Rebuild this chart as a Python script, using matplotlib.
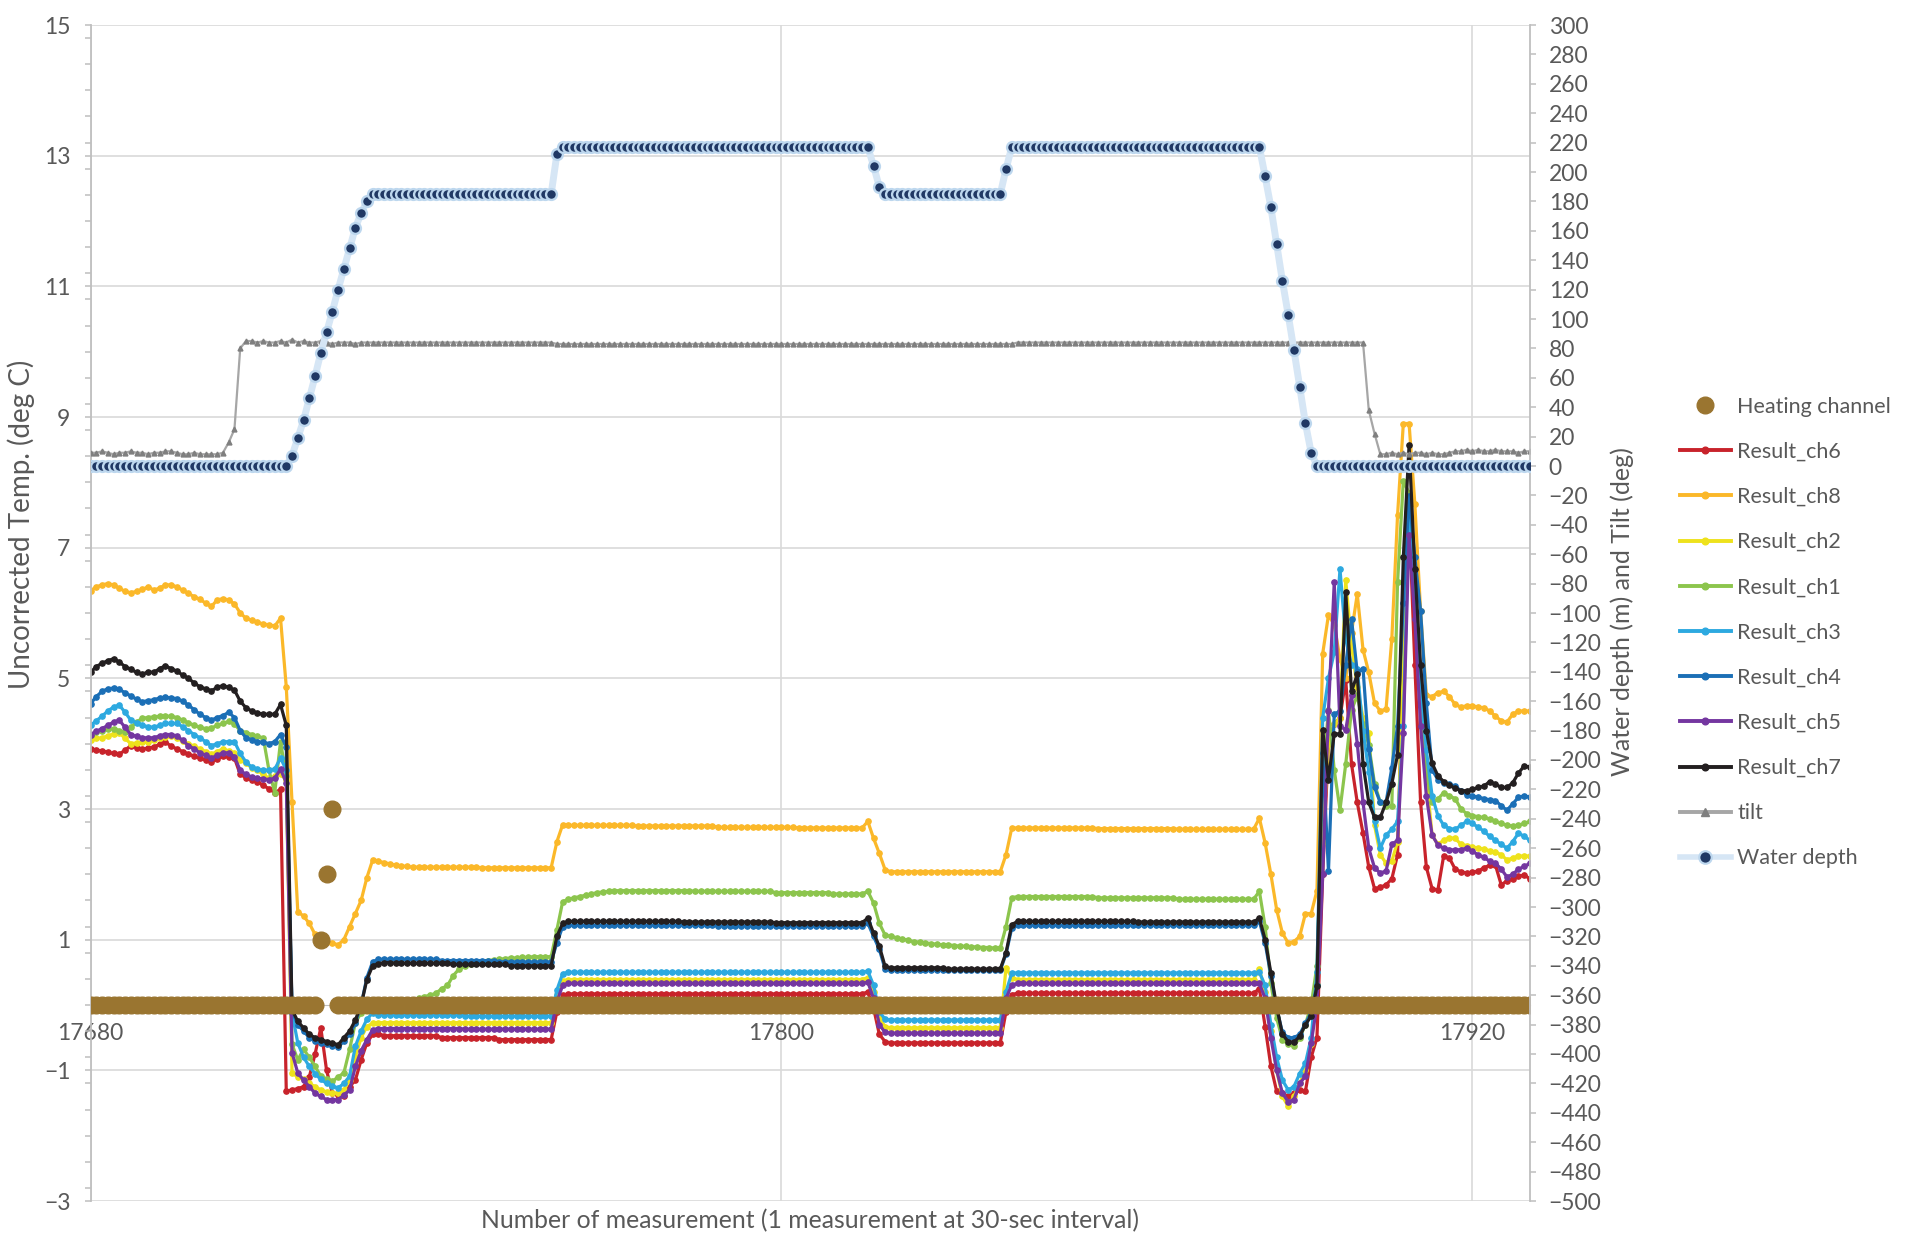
import numpy as np
import matplotlib.pyplot as plt
from matplotlib.lines import Line2D
from matplotlib.ticker import MultipleLocator

plt.rcParams["font.family"] = ["Lato", "DejaVu Sans"]

# measurement numbers, one measurement every 30 s
first_measurement = 17680
n_points = 251

heating_channel = [0] * 40 + [1, 2, 3] + [0] * 208

# segments: surface | drop + descent | 185 m | 217 m | 185 m | 217 m | ascent | surface
result_ch6 = (
    [3.92, 3.90, 3.89, 3.87, 3.85, 3.84, 3.90, 3.97, 3.94, 3.92, 3.93, 3.95, 3.99, 4.03, 3.96, 3.92, 3.88,
     3.84, 3.81, 3.78, 3.75, 3.72, 3.77, 3.81, 3.79, 3.78, 3.53, 3.48, 3.44, 3.42, 3.36, 3.31, 3.25, 3.30]
    + [-1.32, -1.30, -1.28, -1.25, -1.10, -0.75, -0.35, -1.00, -1.35, -1.38, -1.40, -1.25, -1.15, -0.84, -0.58, -0.45]
    + [-0.44] + [-0.47] * 10 + [-0.50] * 10 + [-0.53] * 10
    + [-0.10, 0.15] + [0.17] * 52 + [0.20]
    + [-0.05, -0.45, -0.56] + [-0.58] * 20
    + [-0.10, 0.16] + [0.18] * 42
    + [0.25, -0.33, -0.94, -1.32, -1.35, -1.40, -1.35, -1.30, -1.32, -0.80]
    + [-0.50, 2.00, 4.00, 4.30, 4.40, 4.98, 3.69, 3.10, 2.63, 2.11, 1.78, 1.80, 1.84, 1.93, 2.30, 5.44, 7.50,
       5.21, 3.10, 2.11, 1.78, 1.76, 2.28, 2.25, 2.08, 2.04, 2.02, 2.03, 2.05, 2.10, 2.14, 2.14, 1.84, 1.90,
       1.93, 1.97, 1.99, 1.93]
)

result_ch8 = (
    [6.34, 6.40, 6.43, 6.45, 6.43, 6.38, 6.33, 6.31, 6.33, 6.36, 6.40, 6.35, 6.38, 6.43, 6.43, 6.40, 6.35,
     6.30, 6.25, 6.21, 6.15, 6.10, 6.20, 6.22, 6.20, 6.14, 6.00, 5.92, 5.89, 5.86, 5.83, 5.82, 5.80, 5.92]
    + [4.87, 3.10, 1.43, 1.36, 1.25, 1.08, 1.00, 0.97, 0.95, 0.92, 1.00, 1.20, 1.40, 1.60, 1.95, 2.22]
    + [2.20, 2.18, 2.16, 2.14, 2.13, 2.12] + [2.11] * 12 + [2.10] * 13
    + [2.50, 2.76] + [2.75] * 12 + [2.74] * 14 + [2.72] * 14 + [2.71] * 12 + [2.81]
    + [2.55, 2.32, 2.07] + [2.04] * 20
    + [2.30, 2.71] + [2.71] * 14 + [2.70] * 14 + [2.69] * 14
    + [2.86, 2.48, 2.00, 1.46, 1.10, 0.95, 0.97, 1.05, 1.40, 1.40]
    + [1.75, 5.38, 5.97, 5.82, 5.30, 5.00, 5.70, 6.29, 5.44, 5.09, 4.62, 4.50, 4.53, 5.60, 7.50, 8.90, 8.90,
       7.67, 6.03, 4.74, 4.72, 4.78, 4.80, 4.72, 4.60, 4.56, 4.58, 4.58, 4.56, 4.55, 4.50, 4.42, 4.35, 4.33,
       4.45, 4.50, 4.50, 4.50]
)

result_ch2 = (
    [4.06, 4.08, 4.09, 4.12, 4.15, 4.17, 4.08, 4.00, 4.01, 4.02, 4.03, 4.06, 4.09, 4.10, 4.11, 4.08, 4.04,
     4.00, 3.96, 3.92, 3.88, 3.84, 3.88, 3.92, 3.89, 3.86, 3.75, 3.70, 3.63, 3.59, 3.53, 3.47, 3.50, 3.53]
    + [3.45, -1.04, -1.10, -1.14, -1.20, -1.25, -1.30, -1.33, -1.35, -1.35, -1.30, -1.15, -0.80, -0.50, -0.33, -0.28]
    + [-0.27] * 31
    + [0.15, 0.37] + [0.39] * 52 + [0.42]
    + [0.20, -0.20, -0.33] + [-0.35] * 20
    + [0.57, 0.42] + [0.39] * 42
    + [0.55, 0.20, -0.40, -1.00, -1.40, -1.55, -1.40, -1.20, -1.00, -0.60]
    + [0.30, 2.50, 4.00, 4.30, 4.40, 6.50, 5.50, 4.86, 4.40, 4.16, 2.75, 2.30, 2.17, 2.20, 2.50, 5.21, 7.79,
       6.50, 4.86, 3.50, 2.60, 2.46, 2.52, 2.56, 2.55, 2.46, 2.44, 2.42, 2.40, 2.39, 2.36, 2.34, 2.30, 2.22,
       2.25, 2.28, 2.28, 2.28]
)

result_ch1 = (
    [4.14, 4.18, 4.20, 4.22, 4.23, 4.20, 4.18, 4.25, 4.33, 4.39, 4.40, 4.41, 4.42, 4.42, 4.42, 4.40, 4.36,
     4.32, 4.28, 4.25, 4.23, 4.24, 4.28, 4.31, 4.34, 4.30, 4.20, 4.17, 4.14, 4.11, 4.09, 3.59, 3.25, 4.03]
    + [3.50, -0.60, -0.84, -0.68, -0.80, -0.94, -1.09, -1.13, -1.17, -1.10, -1.04, -0.68, -0.27, -0.12, -0.07, -0.05]
    + [-0.03, -0.02, 0.00, 0.02, 0.03, 0.05, 0.07, 0.10, 0.13, 0.15, 0.18, 0.25, 0.30, 0.45, 0.55, 0.60,
       0.62, 0.64, 0.66, 0.68, 0.69, 0.70, 0.71, 0.72, 0.72, 0.73, 0.73, 0.74, 0.74, 0.74, 0.74]
    + [1.15, 1.58, 1.62, 1.64, 1.66, 1.68, 1.70, 1.72, 1.73, 1.74] + [1.75] * 14 + [1.74] * 14 + [1.72] * 10
    + [1.70] * 6 + [1.74]
    + [1.56, 1.25, 1.07, 1.05, 1.03, 1.01, 0.99, 0.97, 0.96, 0.95, 0.94, 0.93, 0.92, 0.92, 0.91, 0.90, 0.90,
       0.89, 0.89, 0.88, 0.88, 0.87, 0.87]
    + [1.20, 1.64] + [1.66] * 14 + [1.64] * 14 + [1.62] * 14
    + [1.74, 1.20, 0.33, -0.20, -0.53, -0.60, -0.63, -0.50, -0.30, 0.00]
    + [0.60, 3.50, 4.51, 3.60, 2.99, 3.69, 4.51, 4.74, 4.30, 3.98, 3.39, 3.10, 3.04, 3.04, 6.47, 8.02, 7.84,
       6.32, 4.86, 3.57, 3.10, 3.15, 3.25, 3.20, 3.16, 3.00, 2.93, 2.90, 2.88, 2.87, 2.85, 2.81, 2.78, 2.75,
       2.74, 2.75, 2.78, 2.81]
)

result_ch3 = (
    [4.28, 4.35, 4.42, 4.50, 4.56, 4.59, 4.48, 4.36, 4.32, 4.28, 4.26, 4.25, 4.28, 4.31, 4.31, 4.31, 4.26,
     4.20, 4.14, 4.09, 4.03, 3.97, 4.00, 4.03, 4.03, 4.03, 3.85, 3.72, 3.64, 3.61, 3.59, 3.60, 3.61, 3.78]
    + [3.60, -0.12, -0.58, -0.80, -0.94, -1.05, -1.14, -1.20, -1.24, -1.27, -1.20, -1.09, -0.63, -0.40, -0.22, -0.12]
    + [-0.15] * 15 + [-0.17] * 16
    + [0.23, 0.48] + [0.50] * 52 + [0.52]
    + [0.30, -0.10, -0.22] + [-0.23] * 20
    + [0.20, 0.49] + [0.49] * 42
    + [0.50, 0.30, -0.30, -0.80, -1.15, -1.30, -1.25, -1.05, -0.89, -0.50]
    + [0.50, 4.40, 5.00, 5.40, 6.67, 5.60, 5.21, 5.15, 4.20, 3.57, 2.81, 2.40, 2.60, 2.69, 2.81, 4.27, 7.67,
       6.32, 4.86, 3.90, 3.20, 2.90, 2.75, 2.70, 2.69, 2.75, 2.81, 2.78, 2.72, 2.66, 2.58, 2.52, 2.46, 2.40,
       2.50, 2.63, 2.58, 2.52]
)

result_ch4 = (
    [4.61, 4.72, 4.80, 4.84, 4.85, 4.83, 4.78, 4.73, 4.68, 4.64, 4.66, 4.67, 4.70, 4.71, 4.70, 4.69, 4.65,
     4.59, 4.52, 4.45, 4.40, 4.36, 4.40, 4.43, 4.48, 4.40, 4.20, 4.09, 4.06, 4.03, 4.02, 4.00, 4.03, 4.14]
    + [3.95, -0.10, -0.30, -0.40, -0.50, -0.55, -0.58, -0.60, -0.62, -0.65, -0.55, -0.45, -0.28, 0.00, 0.42, 0.66]
    + [0.70] * 11 + [0.68] * 10 + [0.66] * 10
    + [0.95, 1.20] + [1.22] * 26 + [1.21] * 26 + [1.25]
    + [1.05, 0.85, 0.55] + [0.53] * 20
    + [0.78, 1.18] + [1.22] * 42
    + [1.28, 0.95, 0.45, -0.05, -0.42, -0.50, -0.50, -0.45, -0.28, -0.12]
    + [0.30, 3.86, 2.05, 4.45, 4.50, 5.20, 5.91, 5.09, 5.15, 3.92, 3.33, 3.10, 3.10, 3.63, 4.27, 6.15, 7.79,
       6.85, 6.03, 4.62, 3.60, 3.45, 3.40, 3.38, 3.35, 3.28, 3.22, 3.20, 3.18, 3.16, 3.14, 3.13, 3.05, 2.98,
       3.08, 3.18, 3.20, 3.18]
)

result_ch5 = (
    [4.14, 4.19, 4.23, 4.28, 4.33, 4.36, 4.25, 4.14, 4.11, 4.09, 4.09, 4.09, 4.12, 4.14, 4.14, 4.12, 4.05,
     3.97, 3.92, 3.86, 3.82, 3.78, 3.82, 3.86, 3.86, 3.80, 3.59, 3.53, 3.49, 3.47, 3.46, 3.45, 3.47, 3.61]
    + [3.40, -0.73, -1.04, -1.15, -1.25, -1.35, -1.40, -1.45, -1.45, -1.45, -1.38, -1.30, -0.94, -0.70, -0.53, -0.38]
    + [-0.36] * 15 + [-0.37] * 16
    + [0.05, 0.30] + [0.33] * 52 + [0.35]
    + [0.10, -0.30, -0.42] + [-0.43] * 20
    + [0.10, 0.31] + [0.33] * 42
    + [0.33, 0.10, -0.50, -1.00, -1.35, -1.48, -1.45, -1.20, -1.09, -0.58]
    + [0.00, 2.00, 4.50, 6.47, 4.27, 4.21, 4.74, 4.00, 3.10, 2.40, 2.10, 2.02, 2.05, 2.46, 2.52, 4.16, 7.20,
       5.91, 4.27, 3.20, 2.60, 2.45, 2.40, 2.38, 2.37, 2.38, 2.40, 2.35, 2.30, 2.26, 2.20, 2.17, 2.08, 1.96,
       2.00, 2.08, 2.12, 2.17]
)

result_ch7 = (
    [5.09, 5.18, 5.23, 5.27, 5.30, 5.25, 5.18, 5.14, 5.09, 5.06, 5.10, 5.09, 5.15, 5.19, 5.15, 5.11, 5.05,
     5.00, 4.93, 4.87, 4.84, 4.81, 4.86, 4.89, 4.86, 4.82, 4.65, 4.55, 4.50, 4.47, 4.45, 4.45, 4.45, 4.60]
    + [4.28, -0.07, -0.25, -0.35, -0.45, -0.50, -0.53, -0.56, -0.58, -0.61, -0.50, -0.40, -0.23, 0.00, 0.39, 0.60]
    + [0.63, 0.65, 0.65] + [0.64] * 10 + [0.62] * 10 + [0.60] * 8
    + [1.05, 1.25] + [1.28] * 20 + [1.27] * 16 + [1.26] * 16 + [1.33]
    + [1.10, 0.90, 0.59] + [0.57] * 10 + [0.55] * 10
    + [0.80, 1.23] + [1.28] * 21 + [1.27] * 21
    + [1.33, 1.00, 0.49, -0.02, -0.45, -0.56, -0.57, -0.48, -0.30, -0.17]
    + [0.29, 4.21, 3.45, 4.15, 4.15, 6.32, 4.80, 5.06, 3.69, 3.10, 2.87, 2.87, 3.10, 3.39, 3.83, 6.85, 8.57,
       6.67, 5.20, 4.20, 3.70, 3.51, 3.42, 3.36, 3.32, 3.28, 3.28, 3.30, 3.33, 3.35, 3.42, 3.38, 3.33, 3.33,
       3.40, 3.55, 3.66, 3.64]
)

# secondary axis: tilt (deg) and water depth (m)
tilt = (
    [9, 9, 10, 9, 8, 9, 9, 10, 9, 9, 8, 9, 9, 10, 10, 9, 8, 8, 9, 8, 8, 8, 8, 9]
    + [16, 25, 80, 85]
    + [85, 84, 85, 84, 84, 85, 84, 86, 84, 85, 84, 84, 85, 84, 83, 84, 84, 84, 83, 84, 84, 84]
    + [84] * 31 + [83] * 80 + [84] * 59
    + [84, 84, 38, 22, 8]
    + [8, 9, 8, 9, 8, 9, 9, 8, 9, 8, 8, 9, 10, 10, 11, 10, 11, 10, 10, 11, 10, 10, 10, 9, 10, 10]
)

water_depth = (
    [0] * 35
    + [7, 19, 31, 46, 61, 77, 91, 105, 120, 134, 148, 162, 172, 180, 185]
    + [185] * 31
    + [212] + [217] * 54
    + [204, 190] + [185] * 21
    + [202] + [217] * 43
    + [217, 197, 176, 151, 126, 103, 79, 54, 29, 9]
    + [0] * 38
)

results = [
    ("Result_ch6", result_ch6, "#C8232B"),
    ("Result_ch8", result_ch8, "#FBB829"),
    ("Result_ch2", result_ch2, "#EEE21C"),
    ("Result_ch1", result_ch1, "#8CC54D"),
    ("Result_ch3", result_ch3, "#2DA9E0"),
    ("Result_ch4", result_ch4, "#1B6FB6"),
    ("Result_ch5", result_ch5, "#7436A0"),
    ("Result_ch7", result_ch7, "#231F20"),
]

x = np.arange(first_measurement, first_measurement + n_points)

text_grey = "#595959"
axis_grey = "#BFBFBF"
grid_grey = "#D9D9D9"
heat_color = "#9A7530"
depth_face = "#203864"
depth_edge = "#BDD7EE"
depth_line = "#D6E6F5"
tilt_line = "#A6A6A6"
tilt_marker = "#7F7F7F"

fig = plt.figure(figsize=(19.05, 12.39), dpi=100)
ax = fig.add_axes([90.5 / 1905, 1 - 1201 / 1239, (1530 - 90.5) / 1905, (1201 - 25) / 1239])
ax2 = ax.twinx()

# temperature channels
for name, vals, color in results:
    ax.plot(x, vals, color=color, lw=2.3, marker="o", ms=3.8, zorder=2)

ax.plot(x, heating_channel, ls="none", marker="o", ms=12, color=heat_color, zorder=3)

ax.set_xlim(17680, 17930)
ax.set_ylim(-3, 15)
ax.set_xticks([17680, 17800, 17920])
ax.set_yticks(np.arange(-3, 16, 2))
ax.yaxis.set_minor_locator(MultipleLocator(0.4))
ax.grid(True, color=grid_grey, lw=1.2, zorder=0)
ax.set_axisbelow(True)

ax.spines["bottom"].set_position(("data", 0))
ax.spines["bottom"].set_color(axis_grey)
ax.spines["left"].set_color(axis_grey)
ax.spines["left"].set_linewidth(1.3)
for s in ("top", "right"):
    ax.spines[s].set_visible(False)

ax.tick_params(axis="x", length=0, pad=13, labelsize=16.5, labelcolor=text_grey)
ax.tick_params(axis="y", which="both", direction="out", length=4.5, width=1.1, color=axis_grey,
               labelsize=16.5, labelcolor=text_grey, pad=10)

# water depth and tilt on the secondary axis
ax2.plot(x, tilt, color=tilt_line, lw=1.6, marker="^", ms=3.5, mfc=tilt_marker, mec=tilt_marker, zorder=2)
ax2.plot(x, water_depth, color=depth_line, lw=5, marker="o", ms=7.8, mfc=depth_face, mec=depth_edge,
         mew=1.7, zorder=3)

ax2.set_ylim(-500, 300)
ax2.set_yticks(np.arange(-500, 301, 20))
for s in ("top", "left", "bottom"):
    ax2.spines[s].set_visible(False)
ax2.spines["right"].set_color(axis_grey)
ax2.spines["right"].set_linewidth(1.3)
ax2.tick_params(axis="y", direction="out", length=4.5, width=1.1, color=axis_grey,
                labelsize=16.5, labelcolor=text_grey, pad=9)

fig.text(21 / 1905, 1 - 524 / 1239, "Uncorrected Temp. (deg C)", rotation=90, ha="center", va="center",
         fontsize=20, color=text_grey)
fig.text(1622 / 1905, 1 - 612 / 1239, "Water depth (m) and Tilt (deg)", rotation=90, ha="center",
         va="center", fontsize=18, color=text_grey)
fig.text(810 / 1905, 1 - 1221 / 1239, "Number of measurement (1 measurement at 30-sec interval)",
         ha="center", va="center", fontsize=17.8, color=text_grey)

handles = [Line2D([], [], ls="none", marker="o", ms=12, color=heat_color)]
labels = ["Heating channel"]
for name, vals, color in results:
    handles.append(Line2D([], [], color=color, lw=2.8, marker="o", ms=4.8))
    labels.append(name)
handles.append(Line2D([], [], color=tilt_line, lw=2.8, marker="^", ms=5.5, mfc=tilt_marker, mec=tilt_marker))
labels.append("tilt")
handles.append(Line2D([], [], color=depth_line, lw=4, marker="o", ms=9, mfc=depth_face, mec=depth_edge,
                      mew=1.6))
labels.append("Water depth")

fig.legend(handles, labels, loc="center left", bbox_to_anchor=(1680 / 1905, 1 - 632.5 / 1239),
           frameon=False, fontsize=15.5, labelcolor=text_grey, handlelength=2.35, handletextpad=0.3,
           labelspacing=1.17, borderpad=0, borderaxespad=0)

fig.savefig("out.png", dpi=100)
